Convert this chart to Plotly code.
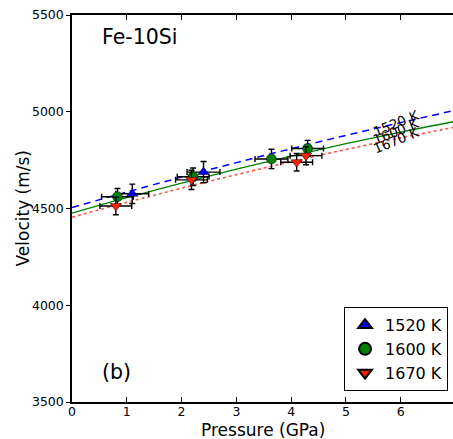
import plotly.graph_objects as go

# ---- data ----
P_1520 = [1.10, 2.40]
V_1520 = [4576, 4688]
Perr_1520 = [0.30, 0.30]
Verr_1520 = [50, 55]

P_1600 = [0.83, 2.21, 3.64, 4.30]
V_1600 = [4561, 4664, 4756, 4810]
Perr_1600 = [0.29, 0.29, 0.30, 0.29]
Verr_1600 = [42, 45, 50, 42]

P_1670 = [0.80, 2.18, 4.10, 4.27]
V_1670 = [4513, 4648, 4739, 4773]
Perr_1670 = [0.29, 0.29, 0.29, 0.29]
Verr_1670 = [45, 50, 45, 47]

# fitted curves
P_fit = [0, 1, 2, 3, 4, 5, 6, 7]
V_fit_1520 = [4505, 4585, 4662, 4737, 4809, 4878, 4944, 5008]
V_fit_1600 = [4476, 4556, 4631, 4703, 4771, 4835, 4895, 4951]
V_fit_1670 = [4455, 4532, 4605, 4675, 4742, 4805, 4865, 4921]

labels = ["1520 K", "1600 K", "1670 K"]
x_ticks = [0, 1, 2, 3, 4, 5, 6]
y_ticks = [3500, 4000, 4500, 5000, 5500]

FONT = "DejaVu Sans"
BLUE = "#0000ff"
GREEN = "#008000"
RED = "#ff2200"

fig = go.Figure()

# fit lines
fig.add_trace(go.Scatter(x=P_fit, y=V_fit_1520, mode="lines", line=dict(color=BLUE, width=1.5, dash="7px,5px", shape="spline"), showlegend=False, hoverinfo="skip"))
fig.add_trace(go.Scatter(x=P_fit, y=V_fit_1600, mode="lines", line=dict(color=GREEN, width=1.3, shape="spline"), showlegend=False, hoverinfo="skip"))
fig.add_trace(go.Scatter(x=P_fit, y=V_fit_1670, mode="lines", line=dict(color="#ff5050", width=1.6, dash="dot", shape="spline"), showlegend=False, hoverinfo="skip"))

def add_points(P, V, Pe, Ve, color, symbol, size, name):
    fig.add_trace(go.Scatter(
        x=P, y=V, mode="markers", name=name,
        marker=dict(color=color, symbol=symbol, size=size, line=dict(color="black", width=0.5)),
        error_x=dict(type="data", array=Pe, color="black", thickness=1.4, width=3),
        error_y=dict(type="data", array=Ve, color="black", thickness=1.4, width=3),
    ))

add_points(P_1520, V_1520, Perr_1520, Verr_1520, BLUE, "triangle-up", 10, labels[0])
add_points(P_1600, V_1600, Perr_1600, Verr_1600, GREEN, "circle", 10, labels[1])
add_points(P_1670, V_1670, Perr_1670, Verr_1670, RED, "triangle-down", 10, labels[2])

fig.update_layout(
    width=453, height=439,
    margin=dict(l=72, r=0, t=15, b=37),
    paper_bgcolor="white", plot_bgcolor="white",
    font=dict(family=FONT, size=12.5, color="black"),
    xaxis=dict(range=[0, 6.953], tickvals=x_ticks, ticks="inside", ticklen=5, tickwidth=1,
               tickcolor="black", showline=True, linecolor="black", linewidth=1.5,
               showgrid=False, zeroline=False, tickfont=dict(size=12.5), ticklabelstandoff=-3),
    xaxis2=dict(range=[0, 6.953], overlaying="x", side="top", tickvals=x_ticks, ticks="inside",
                ticklen=5, tickwidth=1, tickcolor="black", showline=True, linecolor="black",
                linewidth=1.5, showticklabels=False, showgrid=False, zeroline=False, matches="x"),
    yaxis=dict(range=[3500, 5500], tickvals=y_ticks, ticks="outside", ticklen=4, tickwidth=1,
               tickcolor="black", showline=True, linecolor="black", linewidth=1.5,
               showgrid=False, zeroline=False, tickfont=dict(size=12.5)),
    legend=dict(x=0.987, y=0.028, xanchor="right", yanchor="bottom", bgcolor="white",
                bordercolor="black", borderwidth=1, font=dict(size=16, family=FONT),
                itemsizing="constant", tracegroupgap=0),
    showlegend=True,
)
# dummy trace to activate top axis
fig.add_trace(go.Scatter(x=[0], y=[3500], xaxis="x2", mode="markers", marker=dict(opacity=0), showlegend=False, hoverinfo="skip"))

fig.add_annotation(text="Fe-10Si", x=0.0, y=5385, xref="x", yref="y", xanchor="left", yanchor="middle",
                   xshift=28, showarrow=False, font=dict(size=20.5, family=FONT))
fig.add_annotation(text="(b)", x=0.0, y=3656, xref="x", yref="y", xanchor="left", yanchor="middle",
                   xshift=28, showarrow=False, font=dict(size=20.5, family=FONT))
# line labels
for lab, yv in zip(labels, [4943, 4898, 4855]):
    fig.add_annotation(text=lab, x=5.92, y=yv, xref="x", yref="y", showarrow=False, textangle=-22,
                       font=dict(size=13.5, family=FONT))
# axis titles
fig.add_annotation(text="Pressure (GPa)", x=0.5, y=0, xref="paper", yref="paper", yshift=-28,
                   yanchor="middle", showarrow=False, font=dict(size=17, family=FONT))
fig.add_annotation(text="Velocity (m/s)", x=0, y=0.5, xref="paper", yref="paper", xshift=-50,
                   xanchor="center", yanchor="middle", textangle=-90, showarrow=False,
                   font=dict(size=17, family=FONT))

fig.write_html("out.html", config={"displayModeBar": False},
               post_script="document.body.style.margin='0';document.body.style.overflow='hidden';")
